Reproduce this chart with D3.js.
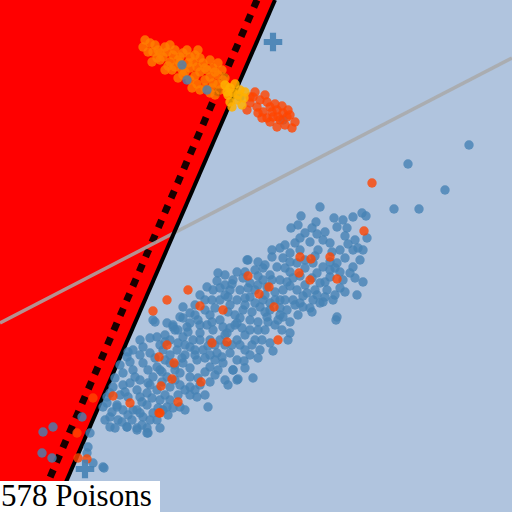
<!DOCTYPE html>
<html><head><meta charset="utf-8">
<script src="https://cdn.jsdelivr.net/npm/d3@7"></script>
<style>html,body{margin:0;padding:0;background:#fff;}svg{display:block;}</style>
</head><body>
<script>
// ---- data (feature space units) ----
const boundaryLine = [[275,0],[53,512]];
const marginLine = [[257,0],[35,512]];
const trendLine = [[0,323],[512,58]];
const centroids = [[273,42],[85,469]];
const label = "578 Poisons";

const bluePoints = [
[469,145],[408,164],[445,190],[394,209],[419,209],
[320,207],[301,216],[316,222],[334,218],[343,220],[353,217],[362,213],[366,216],
[291,228],[337,227],[347,228],[305,233],[317,234],[367,238],
[295,243],[310,242],[323,240],[330,243],[280,248],[290,253],[340,250],[353,250],[358,248],[363,250],
[248,260],[272,257],[283,258],[297,263],[313,263],[323,267],[337,263],[353,267],
[237,272],[245,272],[263,268],[277,267],[290,272],[317,273],[330,277],[350,273],
[233,280],[243,278],[263,280],[280,280],[293,278],[320,283],[343,280],[363,282],
[240,290],[267,287],[283,290],[297,290],[307,293],[327,290],[340,288],[357,295],
[237,300],[250,297],[263,300],[280,300],[300,303],[313,300],[323,302],[333,300],
[243,310],[260,307],[287,310],[303,307],[320,303],
[250,320],[267,317],[283,317],[290,322],[337,317],
[273,351],[244,361],[238,379],[253,378],[233,370],[288,340],[290,333],[336,320],
[218,273],[247,260],[217,281],[207,287],[200,295],[183,307],[190,313],[180,317],[167,323],[153,320],[183,318],
[213,290],[225,295],[230,305],[220,320],[210,315],[200,325],[235,325],[225,335],[215,345],[245,335],[255,340],
[265,330],[275,325],[260,350],[250,355],
[155,322],[173,325],[187,327],[143,347],[133,350],[127,357],[123,373],[113,387],[107,397],[103,407],[105,420],
[110,427],[127,427],[137,428],[147,428],[148,433],[117,407],[123,410],[133,410],[143,417],[153,413],[163,410],
[170,400],[180,407],[197,397],[208,407],[190,387],[180,385],[170,387],[157,390],[147,393],[137,390],[130,383],
[140,380],[153,377],[167,377],[180,373],[190,377],[133,370],[143,363],[157,367],[170,363],[183,363],[197,360],
[210,367],[223,363],[233,370],[237,380],[150,353],[163,350],[177,350],[190,347],[203,350],[217,353],[230,353],
[157,337],[170,340],[183,337],[200,333],[213,330],[227,333],[237,340],[173,327],[190,323],[207,325],[223,327],
[237,323],[90,433],[93,463],[103,467],
[43,432],[53,427],[42,453],[52,458],[82,417],[88,447],[87,453],[104,468],
[107,403],[117,405],[137,410],[147,405],[110,417],[127,427],[137,430],[147,433],[157,420],[167,407],[173,408],
[200,340],[210,340],[195,355],[205,358],[215,360],[225,345],[240,345],[250,330],[258,322],[270,310],[275,300],
[285,300],[255,290],[265,295],[250,283],[230,290],[220,300],[205,300],[195,305],[175,330],[165,335],[160,345],
[185,345],[185,355],[175,370],[165,360],[160,370],[150,385],[140,397],[128,397],[120,395],[118,420],[160,400],
[190,395],[200,385],[215,375],[225,380],[245,350],[262,340],[280,315],[293,300],[305,285],[315,290],[330,270],
[340,272],[300,250],[305,260],[285,268],[270,275],[255,270],[225,285],[235,315],[245,305],
[298,225],[312,228],[325,232],[345,236],[355,240],[300,238],
[272,250],[285,245],[318,250],[332,252],[348,244],[315,256],
[258,262],[265,265],[290,262],[305,268],[345,258],[360,260],[330,262],
[225,275],[258,276],[272,280],[287,282],[300,276],[312,278],[325,282],[335,268],[355,278],
[220,288],[232,284],[248,288],[258,285],[275,292],[290,286],[303,296],[317,295],[335,295],[345,292],
[212,300],[228,297],[245,298],[255,303],[270,303],[280,308],[295,305],[310,308],[325,297],
[195,315],[205,310],[215,308],[228,312],[240,318],[252,312],[265,312],[278,320],[298,315],[312,312],
[178,330],[188,332],[198,320],[212,322],[230,328],[242,328],[258,330],[268,322],[282,330],
[140,340],[150,338],[165,342],[178,343],[193,340],[208,346],[220,340],[232,345],[252,345],[270,343],
[128,352],[140,355],[155,358],[170,355],[182,358],[195,350],[210,355],[222,357],[237,360],[258,358],
[120,365],[130,362],[148,370],[162,372],[175,365],[190,368],[205,372],[218,370],[245,368],
[115,378],[123,385],[135,377],[148,383],[162,382],[175,380],[185,390],[198,378],[210,382],[228,385],
[110,393],[125,392],[142,402],[152,398],[165,395],[178,395],[195,390],[205,395],
[112,412],[128,415],[140,413],[150,420],[158,408],[168,415],[185,410],
[115,428],[122,422],[132,420],[142,425],[160,428],
[182,65],[187,80],[207,90],[240,97],[283,120]
];

const redPoints = [
[372,183],[364,231],[300,257],[311,259],[330,257],[337,279],[248,276],[299,273],[310,280],[269,287],[259,294],
[274,307],[278,340],[188,290],[167,300],[153,311],[200,306],[223,310],
[159,357],[174,363],[172,379],[161,386],[201,382],[178,402],[159,413],[130,403],[113,396],[93,398],[212,343],
[227,342],[167,345],[77,433],[78,458],[87,459],[160,413],
[253,97],[260,100],[250,103],[257,107],[267,102],[270,107],[263,112],[277,110],[283,113],[273,117],[267,118],
[280,120],[287,117],[277,127],[292,128],[247,110],[262,118],[272,112],
[255,92],[265,95],[275,104],[282,106],[288,110],[295,122],[285,125],[270,122],[258,113],[250,97],[290,115],[278,117]
];

const orangePoints = [
[150,43],[143,47],[153,52],[160,53],[167,52],[163,57],[173,55],[180,57],[183,53],[157,58],[170,62],[180,63],
[188,63],[193,62],[197,67],[203,63],[190,68],[200,72],[207,70],[213,68],[210,77],[218,75],[223,80],[213,83],
[220,90],[227,87],[175,67],[185,72],[195,76],[205,80],[215,95],[165,47],[175,50],[190,57],[200,58],
[145,40],[155,45],[148,52],[160,60],[168,66],[178,60],[172,70],[183,75],[190,80],[197,84],[205,88],[212,88],
[218,84],[187,50],[195,55],[205,68],[210,60],[215,72],[222,70],[225,78],[200,90],[210,93],[182,70],[158,50],
[152,62],[165,70],[178,78],[192,88],[170,45],[198,50],[218,63]
];

const goldPoints = [
[225,85],[230,88],[233,93],[240,90],[245,92],[237,100],[242,105],[230,102],[235,84],
[228,95],[238,95],[244,98],[232,107],[227,92]
];

// ---- drawing ----
const W = 512, H = 512;
const x = d3.scaleLinear().domain([0,512]).range([0,W]);
const y = d3.scaleLinear().domain([0,512]).range([0,H]);

const svg = d3.select("body").append("svg").attr("width",W).attr("height",H);
svg.append("rect").attr("width",W).attr("height",H).attr("fill","#b0c4de");

const line = d3.line().x(d=>x(d[0])).y(d=>y(d[1]));

const redPoly = [[0,0], boundaryLine[0], boundaryLine[1], [0,512]];
svg.append("path").attr("d", line(redPoly) + "Z").attr("fill","#ff0000");

svg.append("path").attr("d", line(marginLine)).attr("fill","none")
  .attr("stroke","#000").attr("stroke-opacity",0.9).attr("stroke-width",7).attr("stroke-dasharray","8,8");

svg.append("path").attr("d", line(trendLine)).attr("fill","none")
  .attr("stroke","#a9a9a9").attr("stroke-opacity",0.85).attr("stroke-width",3.5);

svg.append("path").attr("d", line(boundaryLine)).attr("fill","none")
  .attr("stroke","#000").attr("stroke-width",4);

function dots(data, color, op){
  svg.append("g").selectAll("circle").data(data).join("circle")
    .attr("cx",d=>x(d[0])).attr("cy",d=>y(d[1])).attr("r",4.7)
    .attr("fill",color).attr("fill-opacity",op);
}
dots(orangePoints, "#ff7f00", 0.8);
dots(bluePoints, "steelblue", 0.8);
dots(redPoints, "orangered", 0.8);
dots(goldPoints, "#ffb000", 0.85);

svg.append("g").selectAll("path").data(centroids).join("path")
  .attr("transform",d=>`translate(${x(d[0])},${y(d[1])})`)
  .attr("d", d3.symbol().type(d3.symbolCross).size(190))
  .attr("fill","steelblue").attr("fill-opacity",0.9);

const tg = svg.append("g");
tg.append("rect").attr("x",0).attr("y",481).attr("width",160).attr("height",31).attr("fill","#fff");
tg.append("text").attr("x",1).attr("y",506)
  .style("font-family","'Liberation Serif', 'DejaVu Serif', 'Times New Roman', serif")
  .style("font-size","31px").attr("fill","#000").text(label);
</script>
</body></html>
